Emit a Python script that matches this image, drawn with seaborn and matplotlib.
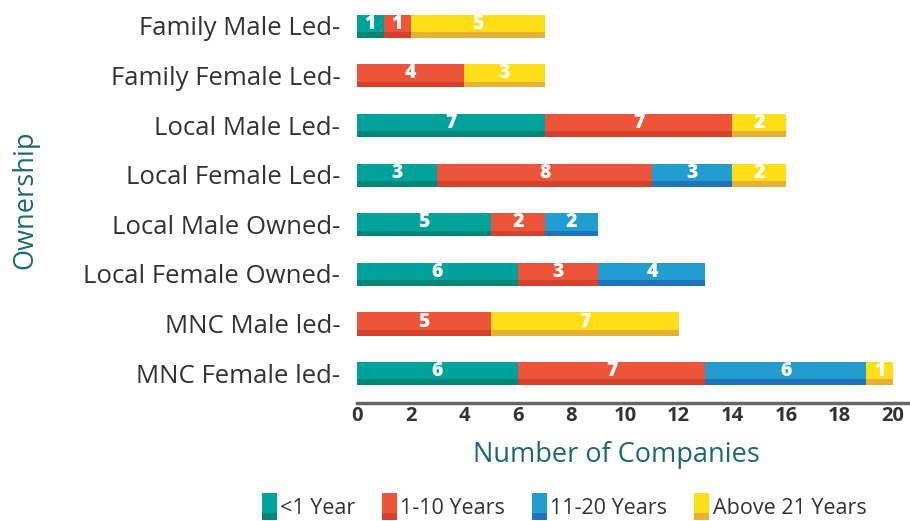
import matplotlib
matplotlib.use("Agg")
import matplotlib.pyplot as plt
import matplotlib.patches as mpatches
from matplotlib.legend_handler import HandlerBase
import seaborn as sns
import numpy as np
import pandas as pd

categories = ["Family Male Led", "Family Female Led", "Local Male Led", "Local Female Led",
              "Local Male Owned", "Local Female Owned", "MNC Male led", "MNC Female led"]
series_names = ["<1 Year", "1-10 Years", "11-20 Years", "Above 21 Years"]
lt1 = [1, 0, 7, 3, 5, 6, 0, 6]
y1_10 = [1, 4, 7, 8, 2, 3, 5, 7]
y11_20 = [0, 0, 0, 3, 2, 4, 0, 6]
above21 = [5, 3, 2, 2, 0, 0, 7, 1]
xticks = [0, 2, 4, 6, 8, 10, 12, 14, 16, 18, 20]

face_colors = ["#00A39B", "#EC553A", "#219DCF", "#FFDD17"]
dark_colors = ["#00877A", "#D6412B", "#1F72BC", "#E5B034"]

sns.set_style("white")
plt.rcParams['font.family'] = ['Open Sans', 'DejaVu Sans']

fig = plt.figure(figsize=(9.10, 5.21), dpi=100)
ax = fig.add_axes([357/910, (521-403)/521, (910-357)/910, 403/521])

vals = np.array([lt1, y1_10, y11_20, above21], dtype=float)
cum = np.cumsum(vals, axis=0)
lefts = cum - vals
ypos = np.arange(len(categories))

# dark bottom strips (3D effect)
for i in range(4):
    ax.barh(ypos + 0.01, vals[i], left=lefts[i], height=0.46, color=dark_colors[i],
            edgecolor="none", zorder=1)

# main faces via seaborn (draw cumulative totals from largest to smallest)
for i in range(3, -1, -1):
    df = pd.DataFrame({"cat": categories, "val": cum[i]})
    sns.barplot(data=df, x="val", y="cat", orient="h", color=face_colors[i],
                saturation=1, width=0.35, ax=ax, zorder=2, edgecolor="none")
for p in ax.patches:
    if p.get_zorder() == 2:
        p.set_y(p.get_y() - 0.05)

for i in range(4):
    for j in range(len(categories)):
        v = vals[i, j]
        if v > 0:
            ax.text(lefts[i, j] + v / 2, j - 0.04, f"{int(v)}", ha="center", va="center",
                    color="white", fontsize=14, fontweight="heavy", zorder=3)

ax.set_xlim(0, 20.63)
ax.set_ylim(7.6, -0.52)
ax.set_xticks(xticks)
ax.set_xticklabels([str(t) for t in xticks], fontsize=14.5, fontweight="bold", color="#333333")
ax.set_yticks(ypos)
ax.set_yticklabels([c + "-" for c in categories], fontsize=18.5, color="#333333")
ax.tick_params(axis="both", length=0)
ax.tick_params(axis="y", pad=12)
ax.tick_params(axis="x", pad=2)
for s in ["top", "right", "left"]:
    ax.spines[s].set_visible(False)
ax.spines["bottom"].set_color("#666666")
ax.spines["bottom"].set_linewidth(2.5)

ax.set_xlabel("Number of Companies", fontsize=19.5, color="#1A6A6E")
ax.xaxis.set_label_coords((616 - 357) / 553, -(455 - 403) / 403)
ax.xaxis.label.set_va("center")
ax.set_ylabel("")
fig.text(25/910, 1 - 200/521, "Ownership", rotation=90, fontsize=19.5, color="#1A6A6E",
         ha="center", va="center")


class TwoToneHandler(HandlerBase):
    def __init__(self, face, dark):
        super().__init__()
        self.face = face
        self.dark = dark

    def create_artists(self, legend, orig_handle, xdescent, ydescent, width, height,
                       fontsize, trans):
        h = height * 1.5
        y0 = -ydescent - (h - height) / 2
        r1 = mpatches.Rectangle((-xdescent, y0), width, h * 0.25, facecolor=self.dark,
                                edgecolor="none", transform=trans)
        r2 = mpatches.Rectangle((-xdescent, y0 + h * 0.25), width, h * 0.75,
                                facecolor=self.face, edgecolor="none", transform=trans)
        return [r1, r2]


handles = [mpatches.Patch(facecolor=face_colors[i], edgecolor="none") for i in range(4)]
hmap = {handles[i]: TwoToneHandler(face_colors[i], dark_colors[i]) for i in range(4)}
fig.legend(handles, series_names, loc="center", bbox_to_anchor=(564/910, 1 - 508/521),
           ncol=4, frameon=False, fontsize=15.5, handlelength=0.7, handleheight=0.9,
           handletextpad=0.15, columnspacing=1.25, labelcolor="#333333", handler_map=hmap)

fig.savefig("out.png", dpi=100)
